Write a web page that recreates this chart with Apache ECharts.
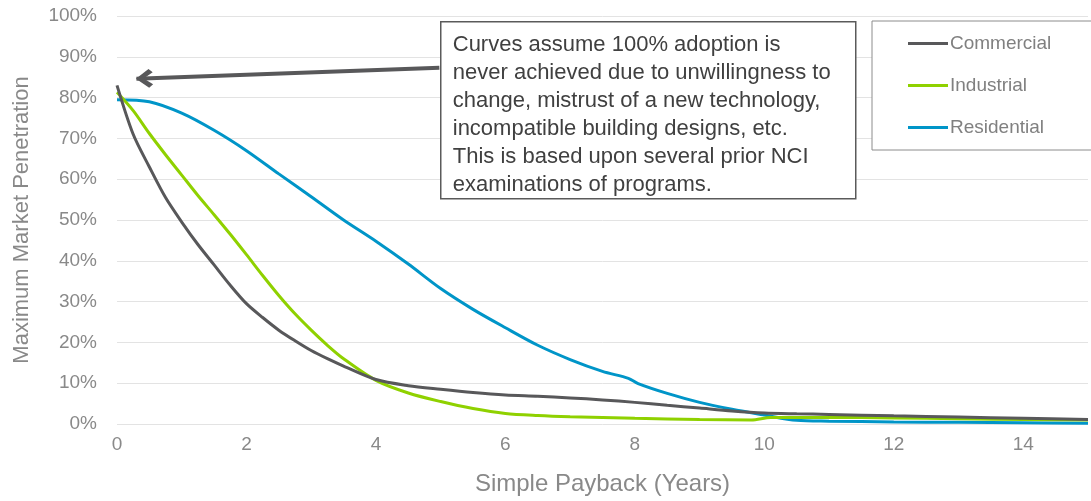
<!DOCTYPE html>
<html>
<head>
<meta charset="utf-8">
<script src="https://cdn.jsdelivr.net/npm/echarts@6/dist/echarts.min.js"></script>
<style>
html,body{margin:0;padding:0;background:#fff;}
#chart{width:1091px;height:501px;}
</style>
</head>
<body>
<div id="chart"></div>
<script>
// ---- data (years, percent) ----
var seriesNames = ['Commercial', 'Industrial', 'Residential'];
var commercial = [[0,83],[0.25,71],[0.5,63],[0.75,55.5],[1,49.5],[1.25,44],[1.5,39],[1.75,34],[2,29.5],[2.25,26.1],[2.5,23],[2.75,20.4],[3,18],[3.25,16],[3.5,14.2],[4,10.9],[4.5,9.4],[5,8.5],[5.5,7.7],[6,7.1],[6.5,6.8],[7,6.4],[7.5,5.9],[8,5.3],[8.5,4.6],[9,3.9],[9.5,3.2],[10,2.7],[10.5,2.5],[11,2.35],[12,2.0],[13,1.7],[14,1.4],[15,1.1]];
var industrial = [[0,81.3],[0.25,76.8],[0.5,71.2],[0.75,66],[1,61],[1.25,56],[1.5,51.3],[1.75,46.5],[2,41.5],[2.25,36.4],[2.5,31.5],[2.75,27],[3,23],[3.25,19.3],[3.5,16],[4,10.7],[4.5,7.6],[5,5.5],[5.5,3.8],[6,2.6],[6.5,2.1],[7,1.8],[8,1.4],[9,1.1],[9.8,1.0],[10.1,1.6],[11,1.6],[12,1.5],[13,1.3],[14,1.1],[15,1.0]];
var residential = [[0,79.5],[0.5,79.0],[1,76.2],[1.5,72],[2,67],[2.5,61.3],[3,55.7],[3.5,50],[4,44.8],[4.5,39.2],[5,33.2],[5.5,28.1],[6,23.6],[6.5,19.3],[7,15.8],[7.5,12.9],[7.9,11.2],[8.05,9.9],[8.5,7.5],[9,5.3],[9.5,3.6],[10,2.2],[10.5,0.9],[11,0.7],[12,0.5],[13,0.4],[14,0.3],[15,0.2]];
var xTicks = [0,2,4,6,8,10,12,14];
var yTicks = [0,10,20,30,40,50,60,70,80,90,100];
var arrowFrom = [4.98, 87.3];
var arrowTo = [0.3, 84.6];
var noteLines = [
  'Curves assume 100% adoption is',
  'never achieved due to unwillingness to',
  'change, mistrust of a new technology,',
  'incompatible building designs, etc.',
  'This is based upon several prior NCI',
  'examinations of programs.'
];

var colors = ['#58585a', '#8fd100', '#0095c8'];
var dataSets = [commercial, industrial, residential];
var FONT = '"Liberation Sans", Arial, sans-serif';
var labelColor = '#898989';

var chart = echarts.init(document.getElementById('chart'), null, {renderer: 'canvas'});

var series = dataSets.map(function (d, i) {
  var s = {
    name: seriesNames[i],
    type: 'line',
    data: d,
    showSymbol: false,
    smooth: 0.3,
    lineStyle: {width: 3, color: colors[i]},
    itemStyle: {color: colors[i]},
    z: 5 - i
  };
  if (i === 0) {
    s.markLine = {
      silent: true,
      animation: false,
      symbol: ['none', 'path://M50,0 L100,76 L82,100 L50,46 L18,100 L0,76 Z'],
      symbolSize: [19, 17],
      symbolOffset: [0, [0, 8]],
      label: {show: false},
      lineStyle: {color: '#58585a', width: 4, type: 'solid'},
      data: [[{coord: arrowFrom}, {coord: arrowTo}]]
    };
  }
  return s;
});

var option = {
  animation: false,
  backgroundColor: '#ffffff',
  textStyle: {fontFamily: FONT},
  grid: {left: 117, right: -13, top: 16, bottom: 74, containLabel: false},
  xAxis: {
    type: 'value',
    min: 0, max: 15, interval: 2,
    name: 'Simple Payback (Years)',
    nameLocation: 'middle',
    nameGap: 48,
    nameTextStyle: {fontSize: 24, color: labelColor, fontFamily: FONT},
    axisLine: {show: false},
    axisTick: {show: false},
    splitLine: {show: false},
    axisLabel: {
      fontSize: 19, color: labelColor, margin: 11, fontFamily: FONT,
      formatter: function (v) { return xTicks.indexOf(v) >= 0 ? String(v) : ''; }
    }
  },
  yAxis: {
    type: 'value',
    min: 0, max: 100, interval: 10,
    name: 'Maximum Market Penetration',
    nameLocation: 'middle',
    nameGap: 84,
    nameTextStyle: {fontSize: 22, color: labelColor, fontFamily: FONT},
    axisLine: {show: false},
    axisTick: {show: false},
    splitLine: {show: true, lineStyle: {color: '#e3e3e3', width: 1}},
    axisLabel: {
      fontSize: 19, color: labelColor, margin: 20, fontFamily: FONT,
      formatter: function (v) { return yTicks.indexOf(v) >= 0 ? v + '%' : ''; }
    }
  },
  legend: {
    orient: 'vertical',
    left: 872, top: 21,
    data: seriesNames,
    icon: 'rect',
    itemWidth: 40, itemHeight: 3,
    itemGap: 23,
    padding: [13, 48, 13, 36],
    backgroundColor: '#ffffff',
    borderColor: '#8c8c8c',
    borderWidth: 1,
    borderRadius: 0,
    textStyle: {fontSize: 19, color: '#808080', fontFamily: FONT, padding: [0, 0, 0, -3]},
    z: 10
  },
  graphic: [{
    type: 'group',
    left: 440, top: 21,
    z: 100,
    children: [{
      type: 'rect',
      z: 100,
      shape: {x: 0, y: 0, width: 415, height: 177},
      style: {fill: '#ffffff', stroke: '#5a5a5a', lineWidth: 1.5}
    }, {
      type: 'text',
      z: 101,
      x: 12, y: 9,
      style: {
        text: noteLines.join('\n'),
        font: '22px ' + FONT,
        fill: '#404040',
        lineHeight: 28
      }
    }]
  }],
  series: series
};
chart.setOption(option);
</script>
</body>
</html>
